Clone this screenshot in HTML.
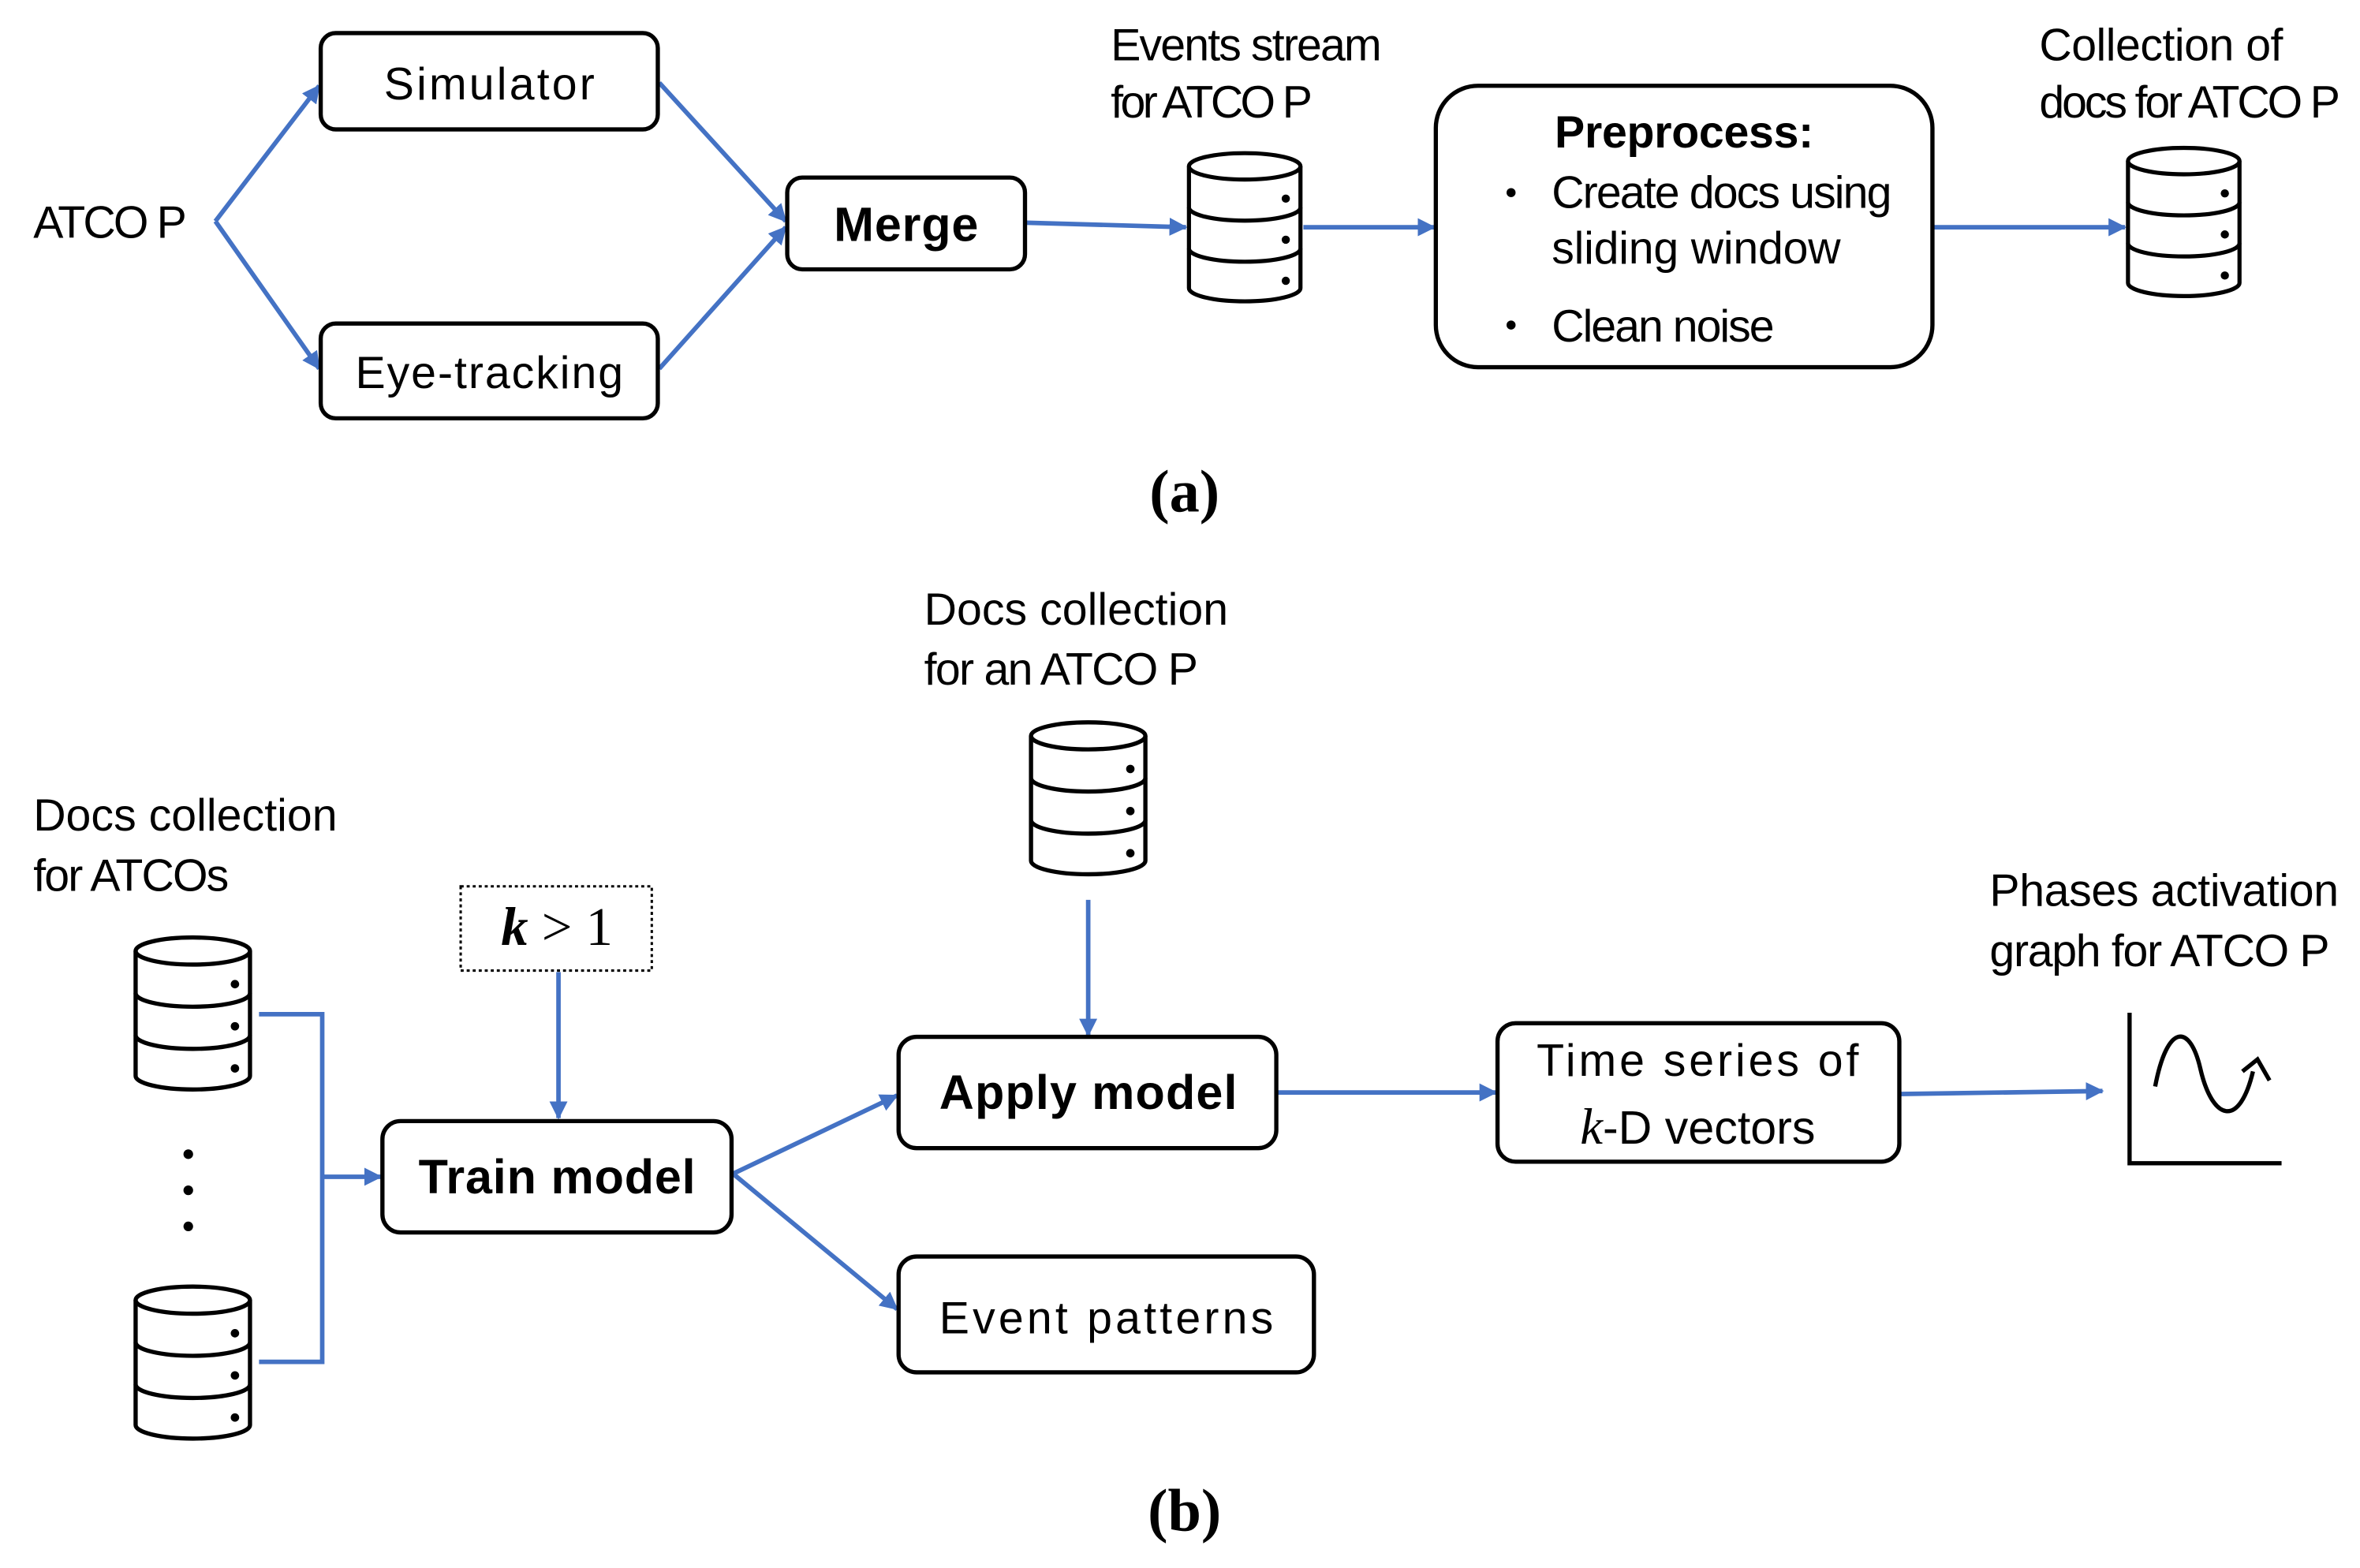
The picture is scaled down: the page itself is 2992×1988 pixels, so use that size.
<!DOCTYPE html>
<html><head><meta charset="utf-8"><style>
html,body{margin:0;padding:0;background:#fff;}
svg{display:block;}
text{font-family:"Liberation Sans",sans-serif;fill:#000;}
</style></head><body>
<svg width="2992" height="1988" viewBox="0 0 1568 1042" xmlns="http://www.w3.org/2000/svg">
<defs>
<marker id="ar" markerWidth="12" markerHeight="12" refX="11" refY="6" orient="auto" markerUnits="userSpaceOnUse">
<path d="M0,0 L12,6 L0,12 Z" fill="#4472C4"/>
</marker>
<symbol id="db" viewBox="0 0 80 106" overflow="visible">
<g fill="none" stroke="#000" stroke-width="2.8">
<ellipse cx="40" cy="11" rx="38" ry="9"/>
<path d="M2 11 V94 A38 9 0 0 0 78 94 V11"/>
<path d="M2 39 A38 9 0 0 0 78 39"/>
<path d="M2 67 A38 9 0 0 0 78 67"/>
</g>
<g fill="#000"><circle cx="68" cy="33" r="2.8"/><circle cx="68" cy="61" r="2.8"/><circle cx="68" cy="89" r="2.8"/></g>
</symbol>
</defs>

<g fill="none" stroke="#4472C4" stroke-width="3">
<line x1="143" y1="147" x2="212" y2="57" marker-end="url(#ar)"/>
<line x1="143" y1="147" x2="212" y2="245" marker-end="url(#ar)"/>
<line x1="438" y1="55" x2="522" y2="147" marker-end="url(#ar)"/>
<line x1="438" y1="245" x2="522" y2="151" marker-end="url(#ar)"/>
<line x1="682" y1="148" x2="788" y2="151" marker-end="url(#ar)"/>
<line x1="866" y1="151" x2="953" y2="151" marker-end="url(#ar)"/>
<line x1="1285" y1="151" x2="1412" y2="151" marker-end="url(#ar)"/>
<polyline points="172,674 214,674 214,905 172,905"/>
<line x1="214" y1="782" x2="253" y2="782" marker-end="url(#ar)"/>
<line x1="371" y1="646" x2="371" y2="743" marker-end="url(#ar)"/>
<line x1="487" y1="780" x2="596" y2="728" marker-end="url(#ar)"/>
<line x1="487" y1="780" x2="596" y2="870" marker-end="url(#ar)"/>
<line x1="723" y1="598" x2="723" y2="688" marker-end="url(#ar)"/>
<line x1="849" y1="726" x2="994" y2="726" marker-end="url(#ar)"/>
<line x1="1263" y1="727" x2="1397" y2="725" marker-end="url(#ar)"/>
</g>

<g fill="#fff" stroke="#000" stroke-width="2.8">
<rect x="213" y="22" width="224" height="64" rx="10"/>
<rect x="213" y="215" width="224" height="63" rx="10"/>
<rect x="523" y="118" width="158" height="61" rx="10"/>
<rect x="954" y="57" width="330" height="187" rx="28"/>
<rect x="254" y="745" width="232" height="74" rx="12"/>
<rect x="597" y="689" width="251" height="74" rx="12"/>
<rect x="995" y="680" width="267" height="92" rx="12"/>
<rect x="597" y="835" width="276" height="77" rx="12"/>
<rect x="306" y="589" width="127" height="56" stroke-width="1.6" stroke-dasharray="2,2"/>
</g>

<use href="#db" x="788" y="99" width="78" height="105"/>
<use href="#db" x="1412" y="96" width="78" height="104"/>
<use href="#db" x="683" y="478" width="80" height="106"/>
<use href="#db" x="88" y="621" width="80" height="106"/>
<use href="#db" x="88" y="853" width="80" height="106"/>
<g fill="#000"><circle cx="125" cy="767" r="3.2"/><circle cx="125" cy="791" r="3.2"/><circle cx="125" cy="815" r="3.2"/></g>

<g fill="none" stroke="#000" stroke-width="2.8">
<polyline points="1415,673 1415,773 1516,773"/>
<path d="M1432,722 C1440,680 1455,680 1462,710 C1470,745 1488,750 1497,712"/>
<path d="M1490,712 L1500,704 L1508,718"/>
</g>

<g font-size="30">
<text x="22" y="158" textLength="102">ATCO P</text>
<text x="325" y="66" text-anchor="middle" textLength="140">Simulator</text>
<text x="325" y="258" text-anchor="middle" textLength="178">Eye-tracking</text>
<text x="602" y="160" text-anchor="middle" font-weight="bold" font-size="32" textLength="96">Merge</text>
<text x="738" y="40" textLength="180">Events stream</text>
<text x="738" y="78" textLength="134">for ATCO P</text>
<text x="1033" y="98" font-weight="bold" textLength="172">Preprocess:</text>
<text x="1031" y="138" textLength="226">Create docs using</text>
<text x="1031" y="175" textLength="192">sliding window</text>
<text x="1031" y="227" textLength="148">Clean noise</text>
<text x="1355" y="40" textLength="162">Collection of</text>
<text x="1355" y="78" textLength="200">docs for ATCO P</text>
<text x="614" y="415" textLength="202">Docs collection</text>
<text x="614" y="455" textLength="182">for an ATCO P</text>
<text x="22" y="552" textLength="202">Docs collection</text>
<text x="22" y="592" textLength="130">for ATCOs</text>
<text x="1322" y="602" textLength="232">Phases activation</text>
<text x="1322" y="642" textLength="226">graph for ATCO P</text>
<text x="370" y="793" text-anchor="middle" font-weight="bold" font-size="32" textLength="184">Train model</text>
<text x="723" y="737" text-anchor="middle" font-weight="bold" font-size="32" textLength="198">Apply model</text>
<text x="1128" y="715" text-anchor="middle" textLength="214">Time series of</text>
<text x="1128" y="760" text-anchor="middle" font-size="31"><tspan style="font-family:'Liberation Serif',serif" font-style="italic" font-size="34">k</tspan>-D vectors</text>
<text x="735" y="886" text-anchor="middle" textLength="222">Event patterns</text>
</g>
<circle cx="1004" cy="128" r="3" fill="#000"/>
<circle cx="1004" cy="216" r="3" fill="#000"/>
<text x="370" y="628" text-anchor="middle" font-size="36" style="font-family:'Liberation Serif',serif"><tspan font-weight="bold" font-style="italic">k</tspan> &gt; 1</text>
<text x="787" y="340" text-anchor="middle" font-size="40" font-weight="bold" style="font-family:'Liberation Serif',serif">(a)</text>
<text x="787" y="1017" text-anchor="middle" font-size="40" font-weight="bold" style="font-family:'Liberation Serif',serif">(b)</text>
</svg>
</body></html>
